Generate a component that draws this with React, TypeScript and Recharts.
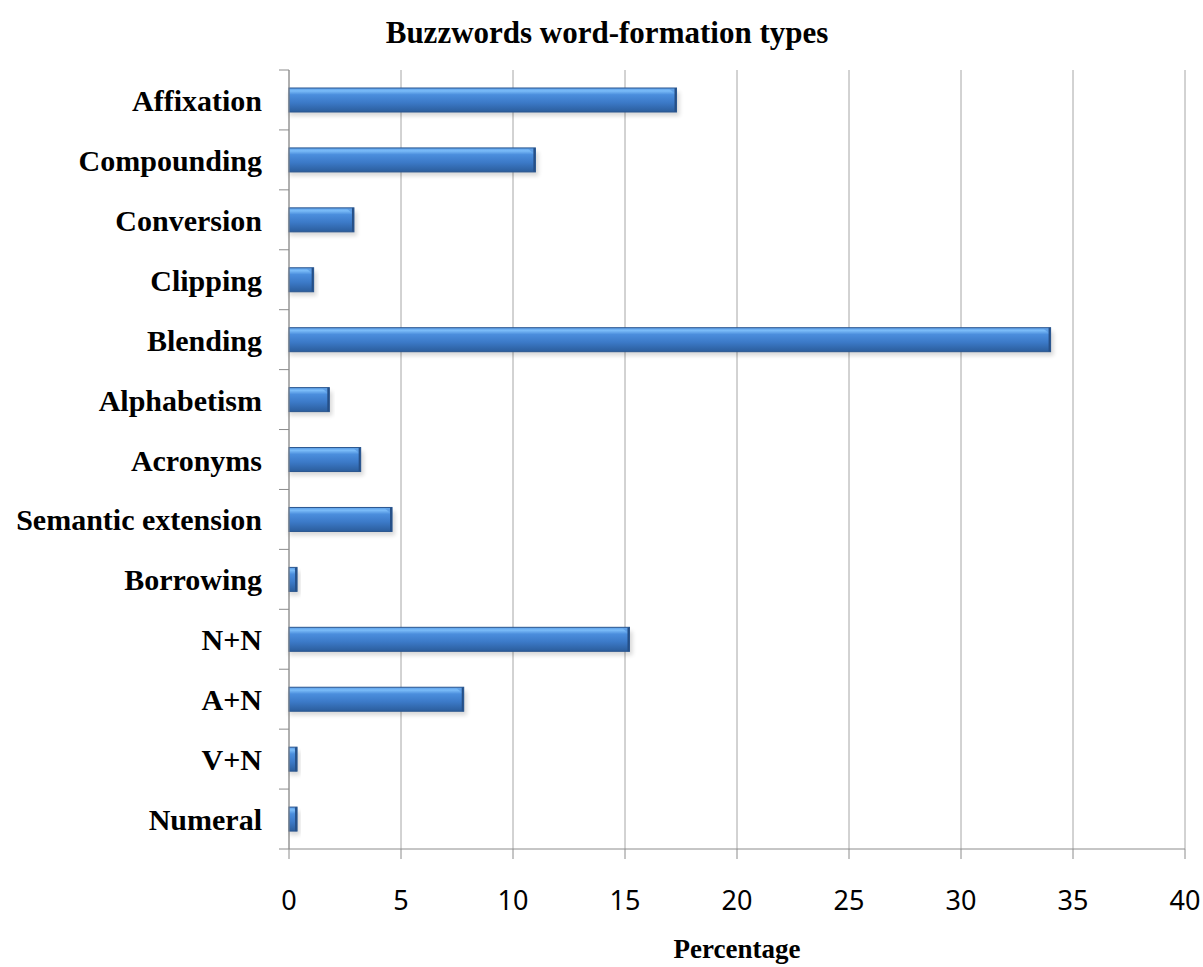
import React from "react";
import { BarChart, Bar, XAxis, YAxis, CartesianGrid } from "recharts";

const categories = [
  "Affixation",
  "Compounding",
  "Conversion",
  "Clipping",
  "Blending",
  "Alphabetism",
  "Acronyms",
  "Semantic extension",
  "Borrowing",
  "N+N",
  "A+N",
  "V+N",
  "Numeral",
];
const percentages = [17.3, 11.0, 2.9, 1.1, 34.0, 1.8, 3.2, 4.6, 0.36, 15.2, 7.8, 0.36, 0.36];
const xTicks = [0, 5, 10, 15, 20, 25, 30, 35, 40];

const data = categories.map((name, i) => ({ name, value: percentages[i] }));

const W = 1203;
const H = 967;
const TOP = 70;
const AXIS_BOTTOM = 118;
const band = (H - TOP - AXIS_BOTTOM) / categories.length;
const axisGray = "#8c8c8c";
const serif = "'Liberation Serif', 'Times New Roman', serif";

const YTick = (props: any) => {
  const { x, y, payload, index } = props;
  const last = index === categories.length - 1;
  return (
    <g>
      <line x1={x - 10} x2={x} y1={y - band / 2} y2={y - band / 2} stroke={axisGray} />
      {last && <line x1={x - 10} x2={x} y1={y + band / 2} y2={y + band / 2} stroke={axisGray} />}
      <text x={x - 27} y={y} dy={11} textAnchor="end" fontFamily={serif} fontWeight="bold" fontSize={30} fill="#000">
        {payload.value}
      </text>
    </g>
  );
};

const XTick = (props: any) => {
  const { x, y, payload } = props;
  return (
    <text x={x} y={y} dy={51} textAnchor="middle" fontFamily="'Noto Sans', 'Open Sans', sans-serif" fontSize={27} fill="#000">
      {payload.value}
    </text>
  );
};

const BevelBar = (props: any) => {
  const { x, y, width, height } = props;
  if (!width || width <= 0) return null;
  const b = Math.min(7, width / 2);
  return (
    <g>
      <rect x={x} y={y + 4} width={width + 3} height={height} fill="#000" opacity={0.15} filter="url(#barShadow)" />
      <rect x={x} y={y} width={width} height={height} fill="url(#barGrad)" />
      <polygon points={`${x + width - b},${y + 1} ${x + width},${y + 1} ${x + width},${y + b}`} fill="#5f9fe6" />
      <rect x={x + width - 2} y={y} width={2} height={height} fill="#264f86" />
      <rect x={x} y={y} width={width} height={height} fill="none" stroke="#2a568f" strokeWidth={1} />
    </g>
  );
};

export default function App() {
  return (
    <div style={{ position: "absolute", left: 0, top: 0, width: W, height: H, background: "#fff" }}>
      <div
        style={{
          position: "absolute",
          left: 0,
          top: 17,
          width: 1214,
          textAlign: "center",
          fontFamily: serif,
          fontWeight: "bold",
          fontSize: 31,
          lineHeight: "31px",
          color: "#000",
        }}
      >
        Buzzwords word-formation types
      </div>
      <BarChart
        width={W}
        height={H}
        data={data}
        layout="vertical"
        margin={{ top: TOP, right: 18, bottom: 0, left: 0 }}
        barSize={24}
      >
        <defs>
          <linearGradient id="barGrad" x1="0" y1="0" x2="0" y2="1">
            <stop offset="0%" stopColor="#5a9de8" />
            <stop offset="12%" stopColor="#7bbcf8" />
            <stop offset="28%" stopColor="#4b8edd" />
            <stop offset="60%" stopColor="#3c7ac8" />
            <stop offset="100%" stopColor="#2b5d9c" />
          </linearGradient>
          <filter id="barShadow" x="-5%" y="-50%" width="110%" height="200%">
            <feGaussianBlur stdDeviation="2" />
          </filter>
        </defs>
        <CartesianGrid horizontal={false} stroke="#a6a6a6" />
        <XAxis
          type="number"
          domain={[0, 40]}
          ticks={xTicks}
          interval={0}
          height={AXIS_BOTTOM}
          tickSize={10}
          tickMargin={0}
          stroke={axisGray}
          tick={<XTick />}
          label={{
            value: "Percentage",
            position: "insideBottom",
            offset: 9,
            fill: "#000",
            fontFamily: serif,
            fontWeight: "bold",
            fontSize: 27,
          }}
        />
        <YAxis
          type="category"
          dataKey="name"
          width={289}
          tickSize={0}
          tickMargin={0}
          interval={0}
          stroke={axisGray}
          tick={<YTick />}
        />
        <Bar dataKey="value" shape={<BevelBar />} isAnimationActive={false} />
      </BarChart>
    </div>
  );
}
